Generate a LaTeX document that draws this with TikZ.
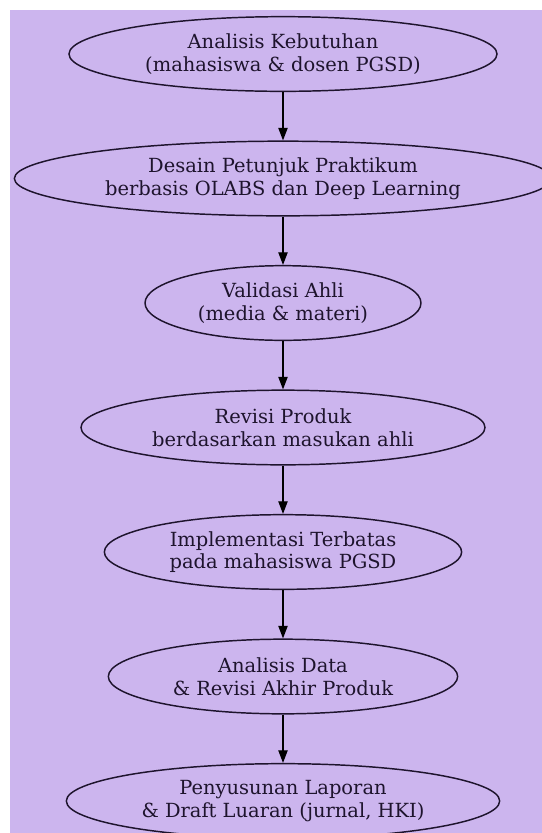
\documentclass[tikz,border=0pt]{standalone}
\usepackage{fontspec}
\setmainfont{DejaVu Serif}
\usepackage{xcolor}
\usepackage{tikz}
\usetikzlibrary{shapes.geometric, arrows.meta}

\definecolor{bgpurple}{RGB}{204,181,238}
\definecolor{inkdark}{RGB}{30,20,45}

\begin{document}
\begin{tikzpicture}[
    x=0.75pt, y=-0.75pt,
    stage/.style={draw=inkdark, line width=1.1pt, ellipse, inner sep=0pt, minimum height=56pt,
        align=center, text=inkdark, font=\fontsize{14.6}{17}\selectfont},
    arr/.style={-{Triangle[length=9.5pt, width=7pt]}, line width=1pt, draw=black},
]

% canvas
\useasboundingbox (0,0) rectangle (542,833);
\clip (0,0) rectangle (542,833);
\fill[bgpurple] (10,10) rectangle (542,833);

% stages, top to bottom
\node[stage, minimum width=321pt] (analisis) at (283,54) {Analisis Kebutuhan\\(mahasiswa \& dosen PGSD)};
\node[stage, minimum width=403pt] (desain) at (283,178.5) {Desain Petunjuk Praktikum\\berbasis OLABS dan Deep Learning};
\node[stage, minimum width=207pt] (validasi) at (283,303) {Validasi Ahli\\(media \& materi)};
\node[stage, minimum width=303pt] (revisi) at (283,427.5) {Revisi Produk\\berdasarkan masukan ahli};
\node[stage, minimum width=268pt] (implementasi) at (283,552) {Implementasi Terbatas\\pada mahasiswa PGSD};
\node[stage, minimum width=262pt] (analisisdata) at (283,676.5) {Analisis Data\\\& Revisi Akhir Produk};
\node[stage, minimum width=325pt] (laporan) at (283,801) {Penyusunan Laporan\\\& Draft Luaran (jurnal, HKI)};

% flow
\draw[arr] (analisis) -- (desain);
\draw[arr] (desain) -- (validasi);
\draw[arr] (validasi) -- (revisi);
\draw[arr] (revisi) -- (implementasi);
\draw[arr] (implementasi) -- (analisisdata);
\draw[arr] (analisisdata) -- (laporan);

\end{tikzpicture}
\end{document}
